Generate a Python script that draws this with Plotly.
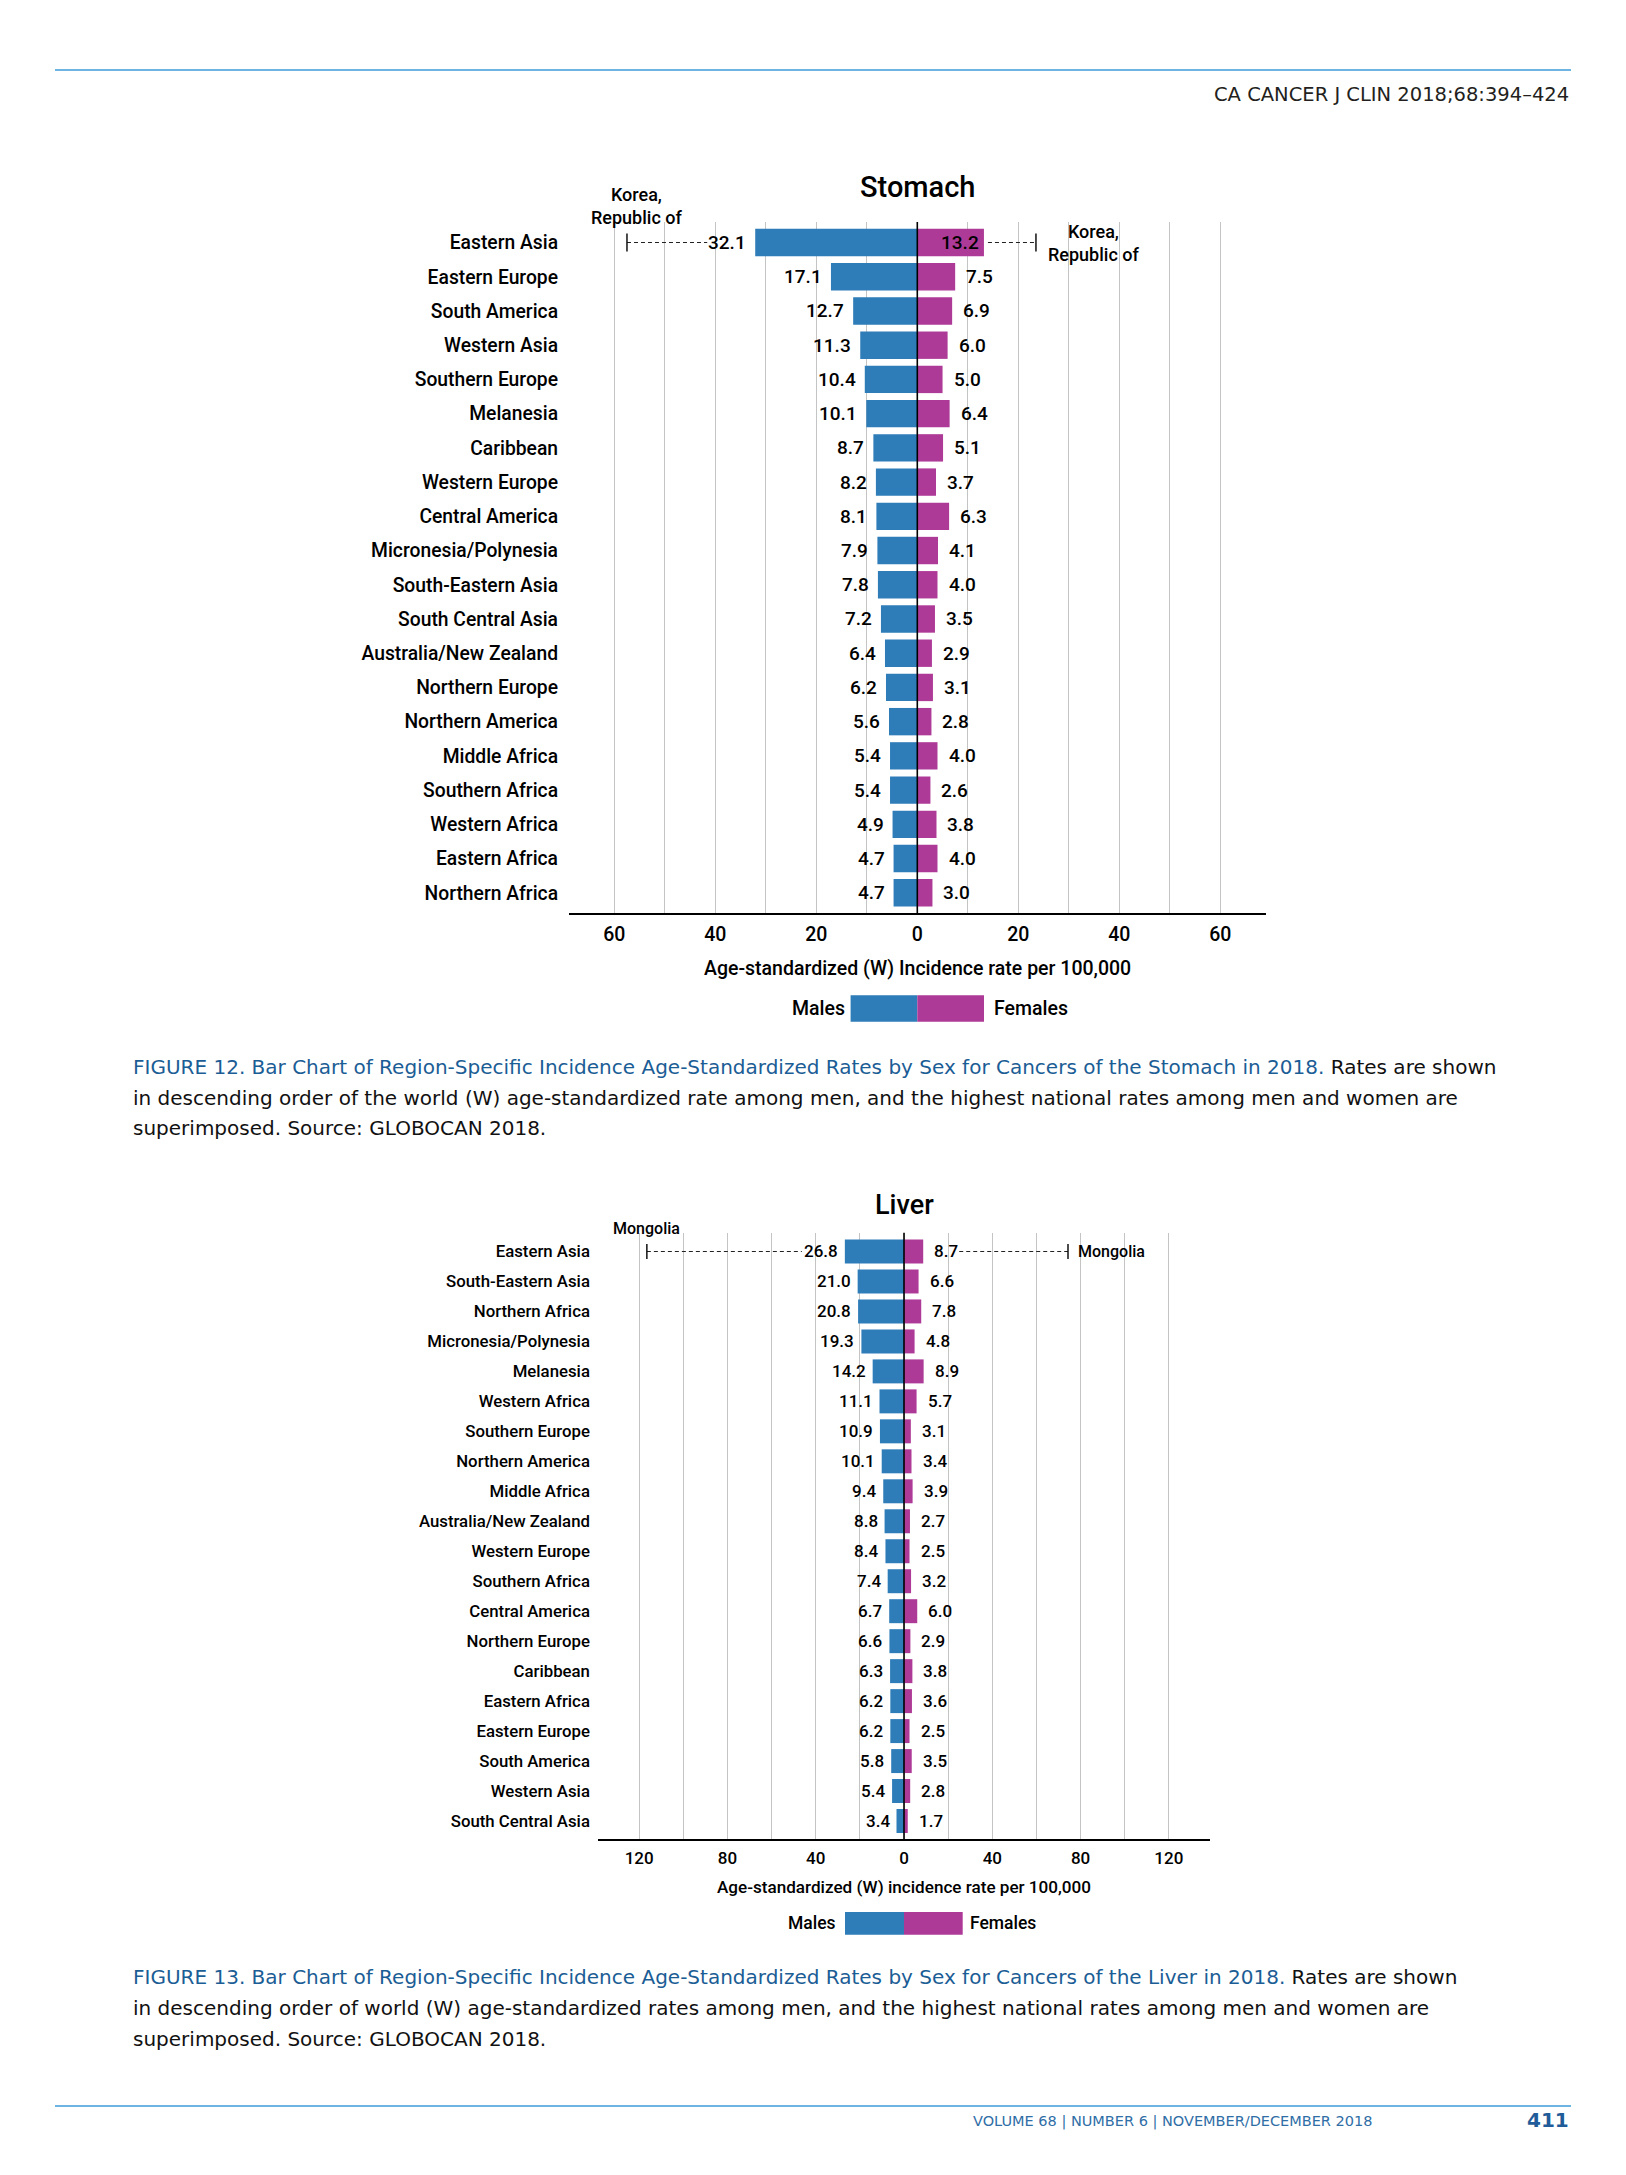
import plotly.graph_objects as go

# ---------------- data ----------------
stomach_regions = ["Eastern Asia", "Eastern Europe", "South America", "Western Asia", "Southern Europe",
                   "Melanesia", "Caribbean", "Western Europe", "Central America", "Micronesia/Polynesia",
                   "South-Eastern Asia", "South Central Asia", "Australia/New Zealand", "Northern Europe",
                   "Northern America", "Middle Africa", "Southern Africa", "Western Africa", "Eastern Africa",
                   "Northern Africa"]
stomach_males = [32.1, 17.1, 12.7, 11.3, 10.4, 10.1, 8.7, 8.2, 8.1, 7.9, 7.8, 7.2, 6.4, 6.2, 5.6, 5.4, 5.4, 4.9, 4.7, 4.7]
stomach_females = [13.2, 7.5, 6.9, 6.0, 5.0, 6.4, 5.1, 3.7, 6.3, 4.1, 4.0, 3.5, 2.9, 3.1, 2.8, 4.0, 2.6, 3.8, 4.0, 3.0]
stomach_top_country = "Korea,<br>Republic of"
stomach_top_male = 57.5
stomach_top_female = 23.5

liver_regions = ["Eastern Asia", "South-Eastern Asia", "Northern Africa", "Micronesia/Polynesia", "Melanesia",
                 "Western Africa", "Southern Europe", "Northern America", "Middle Africa", "Australia/New Zealand",
                 "Western Europe", "Southern Africa", "Central America", "Northern Europe", "Caribbean",
                 "Eastern Africa", "Eastern Europe", "South America", "Western Asia", "South Central Asia"]
liver_males = [26.8, 21.0, 20.8, 19.3, 14.2, 11.1, 10.9, 10.1, 9.4, 8.8, 8.4, 7.4, 6.7, 6.6, 6.3, 6.2, 6.2, 5.8, 5.4, 3.4]
liver_females = [8.7, 6.6, 7.8, 4.8, 8.9, 5.7, 3.1, 3.4, 3.9, 2.7, 2.5, 3.2, 6.0, 2.9, 3.8, 3.6, 2.5, 3.5, 2.8, 1.7]
liver_top_country = "Mongolia"
liver_top_male = 116.5
liver_top_female = 74.3

stomach_tickvals = [-60, -50, -40, -30, -20, -10, 0, 10, 20, 30, 40, 50, 60]
stomach_ticktext = ["60", "", "40", "", "20", "", "0", "", "20", "", "40", "", "60"]
liver_tickvals = [-120, -100, -80, -60, -40, -20, 0, 20, 40, 60, 80, 100, 120]
liver_ticktext = ["120", "", "80", "", "40", "", "0", "", "40", "", "80", "", "120"]

axis_title_stomach = "Age-standardized (W) Incidence rate per 100,000"
axis_title_liver = "Age-standardized (W) incidence rate per 100,000"

cap12_blue = "FIGURE 12. Bar Chart of Region-Specific Incidence Age-Standardized Rates by Sex for Cancers of the Stomach in 2018."
cap12_lines = [" Rates are shown",
               "in descending order of the world (W) age-standardized rate among men, and the highest national rates among men and women are",
               "superimposed. Source: GLOBOCAN 2018."]
cap13_blue = "FIGURE 13. Bar Chart of Region-Specific Incidence Age-Standardized Rates by Sex for Cancers of the Liver in 2018."
cap13_lines = [" Rates are shown",
               "in descending order of world (W) age-standardized rates among men, and the highest national rates among men and women are",
               "superimposed. Source: GLOBOCAN 2018."]

header_text = "CA CANCER J CLIN 2018;68:394–424"
footer_text = "VOLUME 68 | NUMBER 6 | NOVEMBER/DECEMBER 2018"
page_number = "411"

# ---------------- style ----------------
BLUE = "#2e7cb8"
MAGENTA = "#ae3a97"
GRID = "#c4c4c4"
RULE = "#3d9bd8"
CAP_BLUE = "#1b5d95"
FONT = "Roboto, Liberation Sans, Arial, sans-serif"
FW = 500
CAP_FONT = "DejaVu Sans, sans-serif"

W, H, OFF = 1610, 2159, 8


def px(x):
    return (x - OFF) / W


def py(y):
    return 1 - (y - OFF) / H


def ft(size, color="black"):
    return dict(family=FONT, size=size, color=color, weight=FW)


panels = [
    dict(name="stomach", regions=stomach_regions, males=stomach_males, females=stomach_females,
         top_country=stomach_top_country, top_m=stomach_top_male, top_f=stomach_top_female,
         tickvals=stomach_tickvals, ticktext=stomach_ticktext, title="Stomach", axis_title=axis_title_stomach,
         left=568.9, right=1265.7, top=222.0, bottom=913.3, xr=69.0, ytop=-0.6, ybot=19.6,
         lab=19.3, val=19, tick=19.5, ttl=29, ttl_y=187.3, atitle=19.5, atitle_y=968.3, ticklen=2, ylen=6,
         m_gap=7, f_gap=9, f_inside=[0], m_dash=48, f_dash=4, cap_h=9,
         cty_font=18, lcty=dict(xshift=10, y=206.0, xanchor="center"), rcty=dict(xshift=10, xanchor="left"),
         leg=dict(b0=850.6, mid=917.3, b1=984.0, y0=995.3, y1=1021.7, fs=19.5, tm=846.5, tf=991.7)),
    dict(name="liver", regions=liver_regions, males=liver_males, females=liver_females,
         top_country=liver_top_country, top_m=liver_top_male, top_f=liver_top_female,
         tickvals=liver_tickvals, ticktext=liver_ticktext, title="Liver", axis_title=axis_title_liver,
         left=598.3, right=1209.7, top=1232.7, bottom=1839.3, xr=138.5, ytop=-0.627, ybot=19.61,
         lab=16.8, val=17, tick=17, ttl=27, ttl_y=1205.0, atitle=17.1, atitle_y=1887.3, ticklen=2, ylen=4,
         m_gap=5, f_gap=9, f_inside=[], m_dash=43, f_dash=36, cap_h=7.5,
         cty_font=16, lcty=dict(xshift=0, y=1228.0, xanchor="center"), rcty=dict(xshift=8, xanchor="left"),
         leg=dict(b0=845.0, mid=904.0, b1=962.7, y0=1912.0, y1=1934.7, fs=17.5, tm=838.3, tf=968.3)),
]

fig = go.Figure()
annotations = []
shapes = []

for k, p in enumerate(panels):
    xa = "x" if k == 0 else "x2"
    ya = "y" if k == 0 else "y2"
    xname = "xaxis" if k == 0 else "xaxis2"
    yname = "yaxis" if k == 0 else "yaxis2"
    n = len(p["regions"])
    idx = list(range(n))
    scale = (p["right"] - p["left"]) / (2 * p["xr"])  # px per unit

    fig.add_trace(go.Bar(x=[-v for v in p["males"]], y=idx, orientation="h", width=0.8,
                         marker=dict(color=BLUE, line=dict(width=0)), xaxis=xa, yaxis=ya,
                         hoverinfo="skip", showlegend=False))
    fig.add_trace(go.Bar(x=p["females"], y=idx, orientation="h", width=0.8,
                         marker=dict(color=MAGENTA, line=dict(width=0)), xaxis=xa, yaxis=ya,
                         hoverinfo="skip", showlegend=False))

    fig.update_layout(**{
        xname: dict(domain=[px(p["left"]), px(p["right"])], range=[-p["xr"], p["xr"]], anchor=ya,
                    tickvals=p["tickvals"], ticktext=p["ticktext"], showgrid=True, gridcolor=GRID,
                    gridwidth=1.2, zeroline=False, showline=True, linecolor="black", linewidth=1.6,
                    ticks="outside", ticklen=p["ticklen"], tickcolor="rgba(0,0,0,0)",
                    tickfont=ft(p["tick"]), fixedrange=True),
        yname: dict(domain=[py(p["bottom"]), py(p["top"])], range=[p["ybot"], p["ytop"]], anchor=xa,
                    tickvals=idx, ticktext=p["regions"], showgrid=False, zeroline=False, showline=False,
                    ticks="outside", ticklen=p["ylen"], tickcolor="rgba(0,0,0,0)",
                    tickfont=ft(p["lab"]), fixedrange=True),
    })

    # zero line
    shapes.append(dict(type="line", xref=xa, x0=0, x1=0, yref=ya + " domain", y0=0, y1=1,
                       line=dict(color="black", width=1.6), layer="above"))

    # value labels
    for i, (m, f) in enumerate(zip(p["males"], p["females"])):
        annotations.append(dict(xref=xa, yref=ya, x=-m, y=i, text=f"{m:.1f}", showarrow=False,
                                xanchor="right", yanchor="middle", xshift=-p["m_gap"], font=ft(p["val"])))
        if i in p["f_inside"]:
            annotations.append(dict(xref=xa, yref=ya, x=f, y=i, text=f"{f:.1f}", showarrow=False,
                                    xanchor="right", yanchor="middle", xshift=-3, font=ft(p["val"])))
        else:
            annotations.append(dict(xref=xa, yref=ya, x=f, y=i, text=f"{f:.1f}", showarrow=False,
                                    xanchor="left", yanchor="middle", xshift=p["f_gap"], font=ft(p["val"])))

    # highest national rates: dashed leaders + end caps
    m0, f0 = p["males"][0], p["females"][0]
    dash = dict(color="#222222", width=1.1, dash="4px,3px")
    shapes.append(dict(type="line", xref=xa, yref=ya, x0=-p["top_m"], x1=-m0 - p["m_dash"] / scale,
                       y0=0, y1=0, line=dash))
    shapes.append(dict(type="line", xref=xa, yref=ya, x0=f0 + p["f_dash"] / scale, x1=p["top_f"],
                       y0=0, y1=0, line=dash))
    for xv in (-p["top_m"], p["top_f"]):
        shapes.append(dict(type="line", xref=xa, yref=ya, x0=xv, x1=xv, ysizemode="pixel", yanchor=0,
                           y0=-p["cap_h"], y1=p["cap_h"], line=dict(color="#111111", width=1.5)))
    annotations.append(dict(xref=xa, yref="paper", x=-p["top_m"], y=py(p["lcty"]["y"]),
                            text=p["top_country"], showarrow=False, xanchor=p["lcty"]["xanchor"],
                            yanchor="middle", xshift=p["lcty"]["xshift"], align="center",
                            font=ft(p["cty_font"])))
    annotations.append(dict(xref=xa, yref=ya, x=p["top_f"], y=0, text=p["top_country"], showarrow=False,
                            xanchor=p["rcty"]["xanchor"], yanchor="middle", xshift=p["rcty"]["xshift"],
                            align="center", font=ft(p["cty_font"])))

    # title and axis title
    annotations.append(dict(xref=xa, yref="paper", x=0, y=py(p["ttl_y"]), text=p["title"], showarrow=False,
                            xanchor="center", yanchor="middle", font=ft(p["ttl"])))
    annotations.append(dict(xref=xa, yref="paper", x=0, y=py(p["atitle_y"]), text=p["axis_title"],
                            showarrow=False, xanchor="center", yanchor="middle", font=ft(p["atitle"])))

    # legend
    lg = p["leg"]
    shapes.append(dict(type="rect", xref="paper", yref="paper", x0=px(lg["b0"]), x1=px(lg["mid"]),
                       y0=py(lg["y1"]), y1=py(lg["y0"]), fillcolor=BLUE, line=dict(width=0)))
    shapes.append(dict(type="rect", xref="paper", yref="paper", x0=px(lg["mid"]), x1=px(lg["b1"]),
                       y0=py(lg["y1"]), y1=py(lg["y0"]), fillcolor=MAGENTA, line=dict(width=0)))
    ymid = py((lg["y0"] + lg["y1"]) / 2)
    annotations.append(dict(xref="paper", yref="paper", x=px(lg["tm"]), y=ymid, text="Males", showarrow=False,
                            xanchor="right", yanchor="middle", font=ft(lg["fs"])))
    annotations.append(dict(xref="paper", yref="paper", x=px(lg["tf"]), y=ymid, text="Females", showarrow=False,
                            xanchor="left", yanchor="middle", font=ft(lg["fs"])))

# ---------------- page furniture ----------------
for yy in (70, 2106):
    shapes.append(dict(type="line", xref="paper", yref="paper", x0=px(55), x1=px(1571), y0=py(yy), y1=py(yy),
                       line=dict(color=RULE, width=1.5)))
annotations.append(dict(xref="paper", yref="paper", x=px(1571), y=py(94), text=header_text, showarrow=False,
                        xanchor="right", yanchor="middle",
                        font=dict(family=CAP_FONT, size=19.5, color="#231f20")))
annotations.append(dict(xref="paper", yref="paper", x=px(1374), y=py(2121), text=footer_text, showarrow=False,
                        xanchor="right", yanchor="middle",
                        font=dict(family=CAP_FONT, size=14.5, color="#2f6ea6")))
annotations.append(dict(xref="paper", yref="paper", x=px(1571), y=py(2120), text="<b>" + page_number + "</b>",
                        showarrow=False, xanchor="right", yanchor="middle",
                        font=dict(family=CAP_FONT, size=20, color="#1f5c99")))


def caption(blue, lines, ys):
    for j, (txt, yy) in enumerate(zip(lines, ys)):
        if j == 0:
            t = f'<span style="color:{CAP_BLUE}">{blue}</span>{txt}'
        else:
            t = txt
        annotations.append(dict(xref="paper", yref="paper", x=px(131), y=py(yy), text=t, showarrow=False,
                                xanchor="left", yanchor="middle", align="left",
                                font=dict(family=CAP_FONT, size=20, color="#111111")))


caption(cap12_blue, cap12_lines, [1067.0, 1098.0, 1128.0])
caption(cap13_blue, cap13_lines, [1977.0, 2008.0, 2039.0])

fig.update_layout(width=W, height=H, margin=dict(l=0, r=0, t=0, b=0), paper_bgcolor="white",
                  plot_bgcolor="white", barmode="overlay", showlegend=False, hovermode=False,
                  annotations=annotations, shapes=shapes)

fig.write_html("out.html")
